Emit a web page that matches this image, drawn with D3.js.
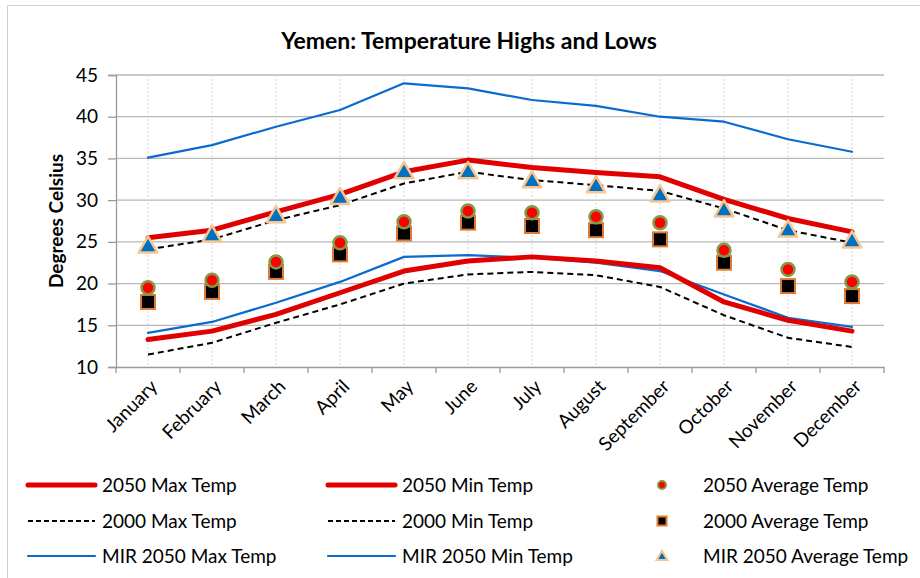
<!DOCTYPE html>
<html>
<head>
<meta charset="utf-8">
<script src="https://cdn.jsdelivr.net/npm/d3@7"></script>
<style>
	body { margin: 0; background: #fff; }
	svg text { font-family: Lato, 'Open Sans', sans-serif; fill: #000; }
</style>
</head>
<body>
<div id="chart"></div>
<script>
const months = ['January', 'February', 'March', 'April', 'May', 'June', 'July', 'August', 'September', 'October', 'November', 'December']
const yTicks = [10, 15, 20, 25, 30, 35, 40, 45]

const max2050 = [25.5, 26.4, 28.6, 30.7, 33.4, 34.8, 33.9, 33.3, 32.8, 30.1, 27.8, 26.2]
const min2050 = [13.3, 14.3, 16.3, 18.9, 21.5, 22.7, 23.2, 22.7, 21.9, 17.8, 15.6, 14.3]
const avg2050 = [19.5, 20.4, 22.6, 24.9, 27.4, 28.7, 28.5, 28.0, 27.3, 24.0, 21.7, 20.2]
const max2000 = [24.1, 25.3, 27.6, 29.4, 32.0, 33.4, 32.4, 31.8, 31.1, 29.0, 26.4, 24.9]
const min2000 = [11.5, 12.9, 15.3, 17.5, 20.0, 21.1, 21.4, 21.0, 19.6, 16.2, 13.5, 12.4]
const avg2000 = [17.8, 19.0, 21.4, 23.5, 26.0, 27.3, 26.9, 26.4, 25.3, 22.5, 19.7, 18.5]
const maxMir = [35.1, 36.6, 38.8, 40.8, 44.0, 43.4, 42.0, 41.3, 40.0, 39.4, 37.3, 35.8]
const minMir = [14.1, 15.4, 17.7, 20.2, 23.2, 23.4, 23.1, 22.5, 21.5, 18.7, 15.9, 14.8]
const avgMir = [24.5, 25.8, 28.1, 30.3, 33.4, 33.4, 32.3, 31.7, 30.6, 28.8, 26.4, 25.1]

const width = 920, height = 578
const plot = { left: 116, right: 884, top: 75, bottom: 367 }

const svg = d3.select('#chart').append('svg')
	.attr('width', width)
	.attr('height', height)

// outer chart border (cropped on right and bottom)
svg.append('rect')
	.attr('x', 7.5).attr('y', 5.5)
	.attr('width', 940).attr('height', 600)
	.attr('fill', 'none')
	.attr('stroke', '#d0d0d0')
	.attr('stroke-width', 1)

svg.append('text')
	.attr('x', 469).attr('y', 49)
	.attr('text-anchor', 'middle')
	.attr('font-size', '23px')
	.attr('font-weight', 700)
	.text('Yemen: Temperature Highs and Lows')

const x = d3.scaleBand().domain(months).range([plot.left, plot.right])
const y = d3.scaleLinear().domain([10, 45]).range([plot.bottom, plot.top])
const cx = m => x(m) + x.bandwidth() / 2

// horizontal gridlines
svg.append('g')
	.selectAll('line')
	.data(yTicks.slice(1))
	.join('line')
	.attr('x1', plot.left).attr('x2', plot.right)
	.attr('y1', d => y(d)).attr('y2', d => y(d))
	.attr('stroke', '#b8b8b8')
	.attr('stroke-width', 1.3)

// vertical dotted gridlines at category centres
svg.append('g')
	.selectAll('line')
	.data(months)
	.join('line')
	.attr('x1', d => cx(d)).attr('x2', d => cx(d))
	.attr('y1', plot.top).attr('y2', plot.bottom)
	.attr('stroke', '#d4d4d4')
	.attr('stroke-width', 1)
	.attr('stroke-dasharray', '2,2')

// y axis
const yAxis = svg.append('g')
	.attr('transform', `translate(${plot.left},0)`)
	.call(d3.axisLeft(y).tickValues(yTicks).tickSize(8).tickPadding(10))
yAxis.select('.domain').attr('stroke', '#9a9a9a').attr('stroke-width', 1.3)
yAxis.selectAll('.tick line').attr('stroke', '#9a9a9a').attr('stroke-width', 1.3)
yAxis.selectAll('.tick text')
	.attr('font-size', '19px')
	.attr('font-family', 'Lato, sans-serif')
	.attr('fill', '#000')

// x axis
const xAxis = svg.append('g')
	.attr('transform', `translate(0,${plot.bottom})`)
	.call(d3.axisBottom(x).tickSize(0).tickFormat(''))
xAxis.select('.domain').attr('stroke', '#9a9a9a').attr('stroke-width', 1.3)
xAxis.selectAll('.tick').remove()
svg.append('g')
	.selectAll('line')
	.data(d3.range(months.length + 1))
	.join('line')
	.attr('x1', i => plot.left + i * x.bandwidth())
	.attr('x2', i => plot.left + i * x.bandwidth())
	.attr('y1', plot.bottom).attr('y2', plot.bottom + 6)
	.attr('stroke', '#9a9a9a')
	.attr('stroke-width', 1.3)

svg.append('g')
	.selectAll('text')
	.data(months)
	.join('text')
	.attr('transform', d => `translate(${cx(d) + 6},${plot.bottom + 16}) rotate(-45)`)
	.attr('text-anchor', 'end')
	.attr('dy', '0.35em')
	.attr('font-size', '19px')
	.text(d => d)

// y axis title
svg.append('text')
	.attr('transform', `translate(63,${(plot.top + plot.bottom) / 2}) rotate(-90)`)
	.attr('text-anchor', 'middle')
	.attr('font-size', '19px')
	.attr('font-weight', 700)
	.text('Degrees Celsius')

const line = d3.line().x((d, i) => cx(months[i])).y(d => y(d))

const lineSeries = [
	{ name: '2050 Max Temp', data: max2050, color: '#e00000', w: 5, dash: null },
	{ name: '2050 Min Temp', data: min2050, color: '#e00000', w: 5, dash: null },
	{ name: '2000 Max Temp', data: max2000, color: '#000', w: 2, dash: '6,4' },
	{ name: '2000 Min Temp', data: min2000, color: '#000', w: 2, dash: '6,4' },
	{ name: 'MIR 2050 Max Temp', data: maxMir, color: '#0a6ad0', w: 2.2, dash: null },
	{ name: 'MIR 2050 Min Temp', data: minMir, color: '#0a6ad0', w: 2.2, dash: null },
]
// draw order: blue first, then black, red on top of the blue where they meet
const drawOrder = [4, 5, 2, 3, 0, 1]
drawOrder.forEach(k => {
	const s = lineSeries[k]
	svg.append('path')
		.datum(s.data)
		.attr('d', line)
		.attr('fill', 'none')
		.attr('stroke', s.color)
		.attr('stroke-width', s.w)
		.attr('stroke-dasharray', s.dash)
		.attr('stroke-linejoin', 'round')
		.attr('stroke-linecap', s.dash ? 'butt' : 'round')
})

const tri = d3.symbol().type(d3.symbolTriangle)

// markers
svg.append('g')
	.selectAll('rect')
	.data(avg2000)
	.join('rect')
	.attr('x', (d, i) => cx(months[i]) - 7)
	.attr('y', d => y(d) - 7)
	.attr('width', 14).attr('height', 14)
	.attr('fill', '#000')
	.attr('stroke', '#e07b30')
	.attr('stroke-width', 2)

svg.append('g')
	.selectAll('circle')
	.data(avg2050)
	.join('circle')
	.attr('cx', (d, i) => cx(months[i]))
	.attr('cy', d => y(d))
	.attr('r', 6.5)
	.attr('fill', '#ff0000')
	.attr('stroke', '#7f9a48')
	.attr('stroke-width', 2.5)

svg.append('g')
	.selectAll('path')
	.data(avgMir)
	.join('path')
	.attr('transform', (d, i) => `translate(${cx(months[i])},${y(d) + 1})`)
	.attr('d', tri.size(150))
	.attr('fill', '#0070c0')
	.attr('stroke', '#fbc590')
	.attr('stroke-width', 2.5)
	.attr('stroke-linejoin', 'round')

// legend
const legendCols = [28, 328, 628]
const legendRows = [485, 521, 556]
const legendItems = [
	{ col: 0, row: 0, s: lineSeries[0] },
	{ col: 1, row: 0, s: lineSeries[1] },
	{ col: 0, row: 1, s: lineSeries[2] },
	{ col: 1, row: 1, s: lineSeries[3] },
	{ col: 0, row: 2, s: lineSeries[4] },
	{ col: 1, row: 2, s: lineSeries[5] },
]
const legend = svg.append('g')
legendItems.forEach(it => {
	const lx = legendCols[it.col], ly = legendRows[it.row]
	legend.append('line')
		.attr('x1', lx).attr('x2', lx + 67)
		.attr('y1', ly).attr('y2', ly)
		.attr('stroke', it.s.color)
		.attr('stroke-width', it.s.w)
		.attr('stroke-dasharray', it.s.dash ? '5,3' : null)
		.attr('stroke-linecap', it.s.dash ? 'butt' : 'round')
	legend.append('text')
		.attr('x', lx + 74).attr('y', ly)
		.attr('dy', '0.35em')
		.attr('font-size', '19px')
		.text(it.s.name)
})

const mx = 662
legend.append('circle')
	.attr('cx', mx).attr('cy', legendRows[0])
	.attr('r', 4)
	.attr('fill', '#ff0000').attr('stroke', '#7f9a48').attr('stroke-width', 2)
legend.append('rect')
	.attr('x', mx - 4.5).attr('y', legendRows[1] - 4.5)
	.attr('width', 9).attr('height', 9)
	.attr('fill', '#000').attr('stroke', '#e07b30').attr('stroke-width', 2)
legend.append('path')
	.attr('transform', `translate(${mx},${legendRows[2] + 1})`)
	.attr('d', tri.size(50))
	.attr('fill', '#0070c0').attr('stroke', '#fbc590').attr('stroke-width', 2)
const markerNames = ['2050 Average Temp', '2000 Average Temp', 'MIR 2050 Average Temp']
markerNames.forEach((n, i) => {
	legend.append('text')
		.attr('x', 703).attr('y', legendRows[i])
		.attr('dy', '0.35em')
		.attr('font-size', '19px')
		.text(n)
})
</script>
</body>
</html>
